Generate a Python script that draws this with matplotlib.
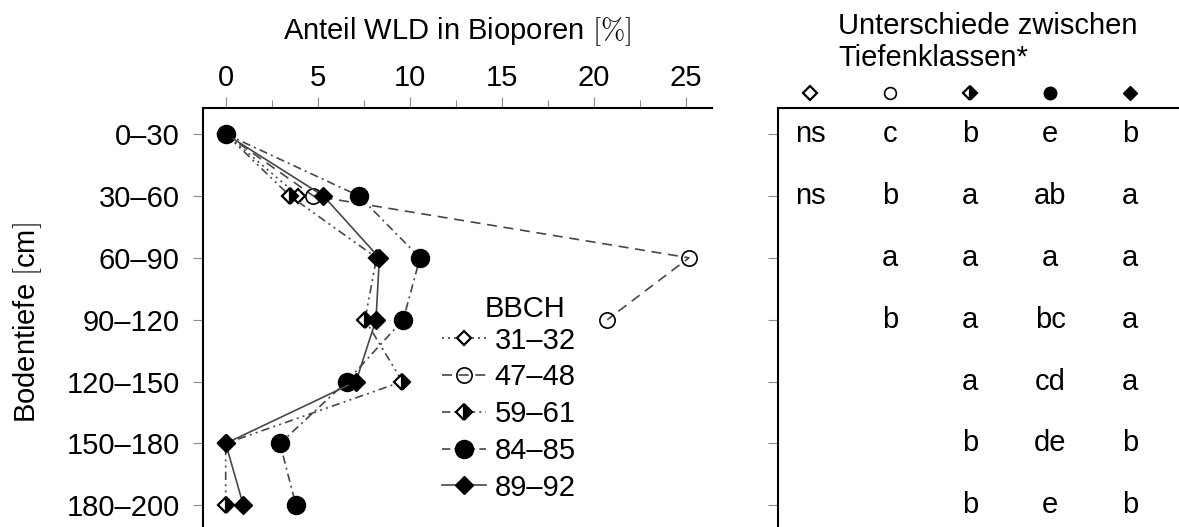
import numpy as np
import matplotlib
matplotlib.use("Agg")
import matplotlib.pyplot as plt
import matplotlib.transforms as mtransforms

plt.rcParams['font.family'] = ['Liberation Sans', 'DejaVu Sans']
plt.rcParams['mathtext.fontset'] = 'cm'
plt.rcParams['font.size'] = 21

# depth classes (rows) and WLD share in biopores [%] per BBCH stage
depths = ['0–30', '30–60', '60–90', '90–120', '120–150', '150–180', '180–200']
bbch = ['31–32', '47–48', '59–61', '84–85', '89–92']
wld_31_32 = [0.0, 3.95]
wld_47_48 = [0.0, 4.76, 25.18, 20.74]
wld_59_61 = [0.0, 3.49, 8.2, 7.57, 9.6, 0.0, 0.0]
wld_84_85 = [0.0, 7.24, 10.56, 9.65, 6.57, 2.95, 3.82]
wld_89_92 = [0.0, 5.31, 8.35, 8.17, 7.08, 0.0, 0.96]

# significance letters between depth classes (one column per BBCH stage)
sig_31_32 = ['ns', 'ns']
sig_47_48 = ['c', 'b', 'a', 'b']
sig_59_61 = ['b', 'a', 'a', 'a', 'a', 'b', 'b']
sig_84_85 = ['e', 'ab', 'a', 'bc', 'cd', 'de', 'e']
sig_89_92 = ['b', 'a', 'a', 'a', 'a', 'b', 'b']

series = [wld_31_32, wld_47_48, wld_59_61, wld_84_85, wld_89_92]
letters = [sig_31_32, sig_47_48, sig_59_61, sig_84_85, sig_89_92]

lc = '#474747'
tc = '#8c8c8c'
styles = [
	dict(ls=(0, (1.2, 2.4)), marker='D', ms=7.4, mfc='white', mec='black', mew=1.6),
	dict(ls=(0, (6, 4)), marker='o', ms=11, mfc='none', mec='black', mew=1.2),
	dict(ls=(0, (5, 2.5, 1.2, 2.5, 1.2, 2.5)), marker='D', ms=7.8, mfc='black', mfcalt='white',
	     fillstyle='right', mec='black', mew=1.6),
	dict(ls=(0, (5, 2.5, 1.2, 2.5)), marker='o', ms=13, mfc='black', mec='black', mew=1),
	dict(ls='-', marker='D', ms=9, mfc='black', mec='black', mew=1),
]
# smaller symbols in the table header
head_ms = [6.8, 8.5, 7.0, 9, 7.6]

W, H = 1179, 527
fig = plt.figure(figsize=(W / 100, H / 100), dpi=100)
top = 1 - 107.7 / H
ax = fig.add_axes([202.7 / W, 0, (712 - 202.7) / W, top])
ax2 = fig.add_axes([777.7 / W, 0, 1 - 777.7 / W, top])

rows = np.arange(len(depths))
handles = []
for vals, st, name in zip(series, styles, bbch):
	st = dict(st)
	alt = st.pop('mfcalt', None)
	h, = ax.plot(vals, rows[:len(vals)], color=lc, lw=1.2, label=name, clip_on=False, **st)
	if alt is not None:
		h.set_markerfacecoloralt(alt)
	handles.append(h)

ax.set_ylim(6.35, -0.425)
ax.set_xlim(-1.25, 26.43)
ax.set_yticks(rows)
ax.set_yticklabels(depths)
ax.xaxis.tick_top()
ax.xaxis.set_label_position('top')
ax.set_xticks(np.arange(0, 26, 5))
ax.set_xticks(np.arange(2.5, 26, 5), minor=True)
ax.tick_params(axis='x', which='major', length=8, width=0.8, color=tc, pad=3)
ax.tick_params(axis='x', which='minor', length=6, width=0.8, color=tc)
ax.tick_params(axis='y', length=7.5, width=0.8, color=tc, pad=9)
ax.set_xlabel(r'Anteil WLD in Bioporen $[\%]$', labelpad=18)
for s in ['right', 'bottom']:
	ax.spines[s].set_visible(False)
for s in ['left', 'top']:
	ax.spines[s].set_linewidth(1.5)

fig.text(28 / W, 1 - 323 / H, r'Bodentiefe $[$cm$]$', rotation=90, ha='center', va='center')

leg = ax.legend(handles=handles, loc='upper left', bbox_to_anchor=(0.47, 0.478), frameon=False,
                handlelength=1.5, handletextpad=0.3, labelspacing=0.3, borderpad=0, borderaxespad=0)
ax.text(0.633, 0.52, 'BBCH', transform=ax.transAxes, ha='center', va='center')

# right panel: letters table
cols = np.arange(1, len(bbch) + 1)
ax2.set_xlim(0.596, 5.61)
ax2.set_ylim(6.35, -0.425)
ax2.set_yticks(rows)
ax2.set_yticklabels([])
ax2.set_xticks([])
ax2.tick_params(axis='y', length=7.5, width=0.8, color=tc)
for s in ['right', 'bottom']:
	ax2.spines[s].set_visible(False)
for s in ['left', 'top']:
	ax2.spines[s].set_linewidth(1.5)

for c, col_letters in zip(cols, letters):
	for r, txt in zip(rows, col_letters):
		ax2.text(c, r, txt, ha='center', va='center')

head = mtransforms.blended_transform_factory(ax2.transData, ax2.transAxes)
for c, st, ms in zip(cols, styles, head_ms):
	st = dict(st)
	alt = st.pop('mfcalt', None)
	st.pop('ls')
	st['ms'] = ms
	h, = ax2.plot([c], [1.035], transform=head, clip_on=False, ls='none', **st)
	if alt is not None:
		h.set_markerfacecoloralt(alt)

fig.text(838 / W, 1 - 42 / H, 'Unterschiede zwischen\nTiefenklassen*', ha='left', va='center',
         linespacing=1.15)

fig.savefig('out.png', dpi=100)
